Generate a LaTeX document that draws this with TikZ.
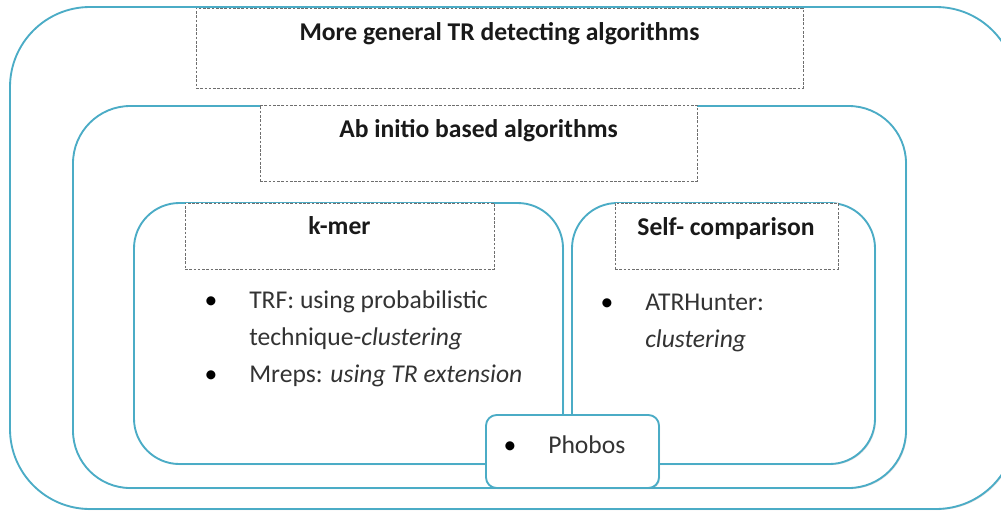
\documentclass[tikz,border=0pt]{standalone}
\usepackage{fontspec}
\setmainfont{Carlito}
\usepackage{xcolor}
\definecolor{smartblue}{RGB}{75,172,198}
\definecolor{dashgray}{RGB}{110,110,110}
\usepackage{tikz}
\usetikzlibrary{
  positioning,
  fit,
  shadows
}

\begin{document}
\begin{tikzpicture}[
  x=0.75pt, y=-0.75pt,
  frame/.style={draw=smartblue, line width=1.4pt, fill=white, inner sep=0pt, drop shadow={opacity=0.25, shadow xshift=0.8pt, shadow yshift=-0.8pt}},
  titlebox/.style={draw=dashgray, fill=white, dash pattern=on 2pt off 1.2pt, line width=0.6pt, inner sep=0pt},
  heading/.style={font=\fontsize{19.2}{22}\selectfont\bfseries, text=black!90, anchor=base, inner sep=0pt},
  item/.style={font=\fontsize{19.2}{28}\selectfont, text=black!80, anchor=base west, inner sep=0pt},
  dot/.style={font=\fontsize{19.2}{22}\selectfont, anchor=base, inner sep=0pt}
]
  \useasboundingbox (0,0) rectangle (1001,511);
  \clip (0,0) rectangle (1001,511);

  % blue frames
  \node[frame, rounded corners=60pt, fit={(10,7) (1016,509)}] (outer) {};
  \node[frame, rounded corners=43pt, fit={(73,106) (906,488)}] (abinitio) {};
  \node[frame, rounded corners=34pt, fit={(134,203) (563,464)}] (kmer) {};
  \node[frame, rounded corners=34pt, fit={(572,203) (875,464)}] (selfcmp) {};
  \node[frame, rounded corners=8pt, fit={(486,415) (659,488)}] (phobos) {};

  % dashed title boxes
  \node[titlebox, fit={(196,8) (803,88)}] (generaltitle) {};
  \node[titlebox, fit={(260,105) (697,181)}] (abinitiotitle) {};
  \node[titlebox, fit={(185,203) (494,269)}] (kmertitle) {};
  \node[titlebox, fit={(615,203) (838,269)}] (selftitle) {};

  \node[heading] (generaltext) at (499.5,40) {More general TR detecting algorithms};
  \node[heading] (abinitiotext) at (478.5,137) {Ab initio based algorithms};
  \node[heading] (kmertext) at (339.5,234) {k-mer};
  \node[heading] (selftext) at (726,235) {Self- comparison};

  % bullet items
  \node[dot] (kdot1) at (211,308) {•};
  \node[item] (trf) at (249,308) {TRF: using probabilistic};
  \node[item] (trf2) at (249,345) {technique-\textit{clustering}};
  \node[dot] (kdot2) at (211,382) {•};
  \node[item] (mreps) at (249,382) {Mreps: \textit{using TR extension}};
  \node[dot] (sdot) at (607,310) {•};
  \node[item] (atr) at (645,310) {ATRHunter:};
  \node[item] (atr2) at (645,347) {\textit{clustering}};
  \node[dot] (pdot) at (510,453) {•};
  \node[item] (phobostext) at (548,453) {Phobos};
\end{tikzpicture}
\end{document}
